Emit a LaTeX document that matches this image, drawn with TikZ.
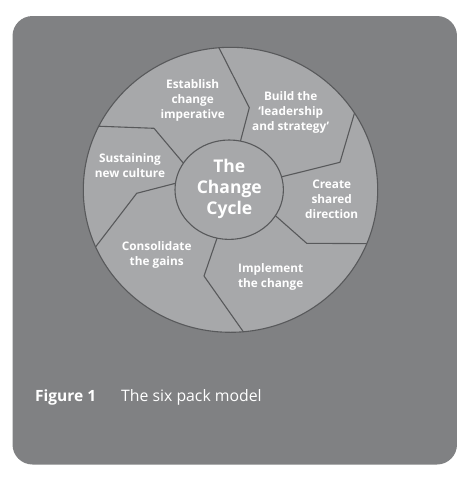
\documentclass[tikz,border=0pt]{standalone}
\usepackage{fontspec}
\setmainfont{Open Sans}
\usetikzlibrary{calc}
\definecolor{panel}{HTML}{808183}
\definecolor{wheel}{HTML}{A7A8AA}
\definecolor{edge}{HTML}{58595B}
\tikzset{
  seglabel/.style={text=white, font=\bfseries\fontsize{11.8}{15}\selectfont, align=center, inner sep=0pt},
  hublabel/.style={text=white, font=\bfseries\fontsize{17.5}{21}\selectfont, align=center, inner sep=0pt},
  rim/.style={draw=edge, line width=1.1pt},
  divider/.style={draw=edge, line width=1.1pt, line join=round}
}
\begin{document}
\begin{tikzpicture}[x=1pt,y=-1pt]
\useasboundingbox (0,0) rectangle (457,480);
\fill[panel, rounded corners=20pt] (12.5,16) rectangle (457,464.5);
% wheel
\coordinate (C) at (230.5,189.8);
\coordinate (H) at (229.2,189.7);
\filldraw[rim, fill=wheel] (C) ellipse [x radius=147.2, y radius=142.5];
% dividers
\draw[divider] ($(C)+(265.5:147.2 and 142.5)$) coordinate (o1) -- (249.3,107.7) coordinate (m1) -- ($(H)+(282:54.2 and 49.7)$) coordinate (i1);
\draw[divider] ($(C)+(327.4:147.2 and 142.5)$) coordinate (o2) -- (340,162.3) coordinate (m2) -- ($(H)+(345:54.2 and 49.7)$) coordinate (i2);
\draw[divider] ($(H)+(31.5:54.2 and 49.7)$) coordinate (i3) -- (306.7,243.3) coordinate (m3) -- ($(C)+(22.2:147.2 and 142.5)$) coordinate (o3);
\draw[divider] ($(H)+(103:54.2 and 49.7)$) coordinate (i4) -- (204,276) coordinate (m4) -- ($(C)+(85:147.2 and 142.5)$) coordinate (o4);
\draw[divider] ($(H)+(187.4:54.2 and 49.7)$) coordinate (i5) -- (136.7,193.3) coordinate (m5) -- ($(C)+(156.4:147.2 and 142.5)$) coordinate (o5);
\draw[divider] ($(H)+(212.3:54.2 and 49.7)$) coordinate (i6) -- (154,128.3) coordinate (m6) -- ($(C)+(206.5:147.2 and 142.5)$) coordinate (o6);
% hub
\filldraw[rim, fill=wheel] (H) ellipse [x radius=54.2, y radius=49.7];
% labels
\node[hublabel] (hub) at (229.3,188.5) {The\\Change\\Cycle};
\node[seglabel] (s1) at (192.7,100.7) {Establish\\change\\imperative};
\node[seglabel] (s2) at (290.7,112.3) {Build the\\‘leadership\\and strategy’};
\node[seglabel] (s3) at (331.7,199.3) {Create\\shared\\direction};
\node[seglabel] (s4) at (270.7,276.8) {Implement\\the change};
\node[seglabel] (s5) at (156.7,254.7) {Consolidate\\the gains};
\node[seglabel] (s6) at (130,165.5) {Sustaining\\new culture};
% caption
\node[text=white, font=\bfseries\fontsize{15.5}{18}\selectfont, anchor=base west, inner sep=0pt] (fig) at (35,401) {Figure 1};
\node[text=white, font=\fontsize{15.8}{18}\selectfont, anchor=base west, inner sep=0pt] (cap) at (121,401) {The six pack model};
\end{tikzpicture}
\end{document}
